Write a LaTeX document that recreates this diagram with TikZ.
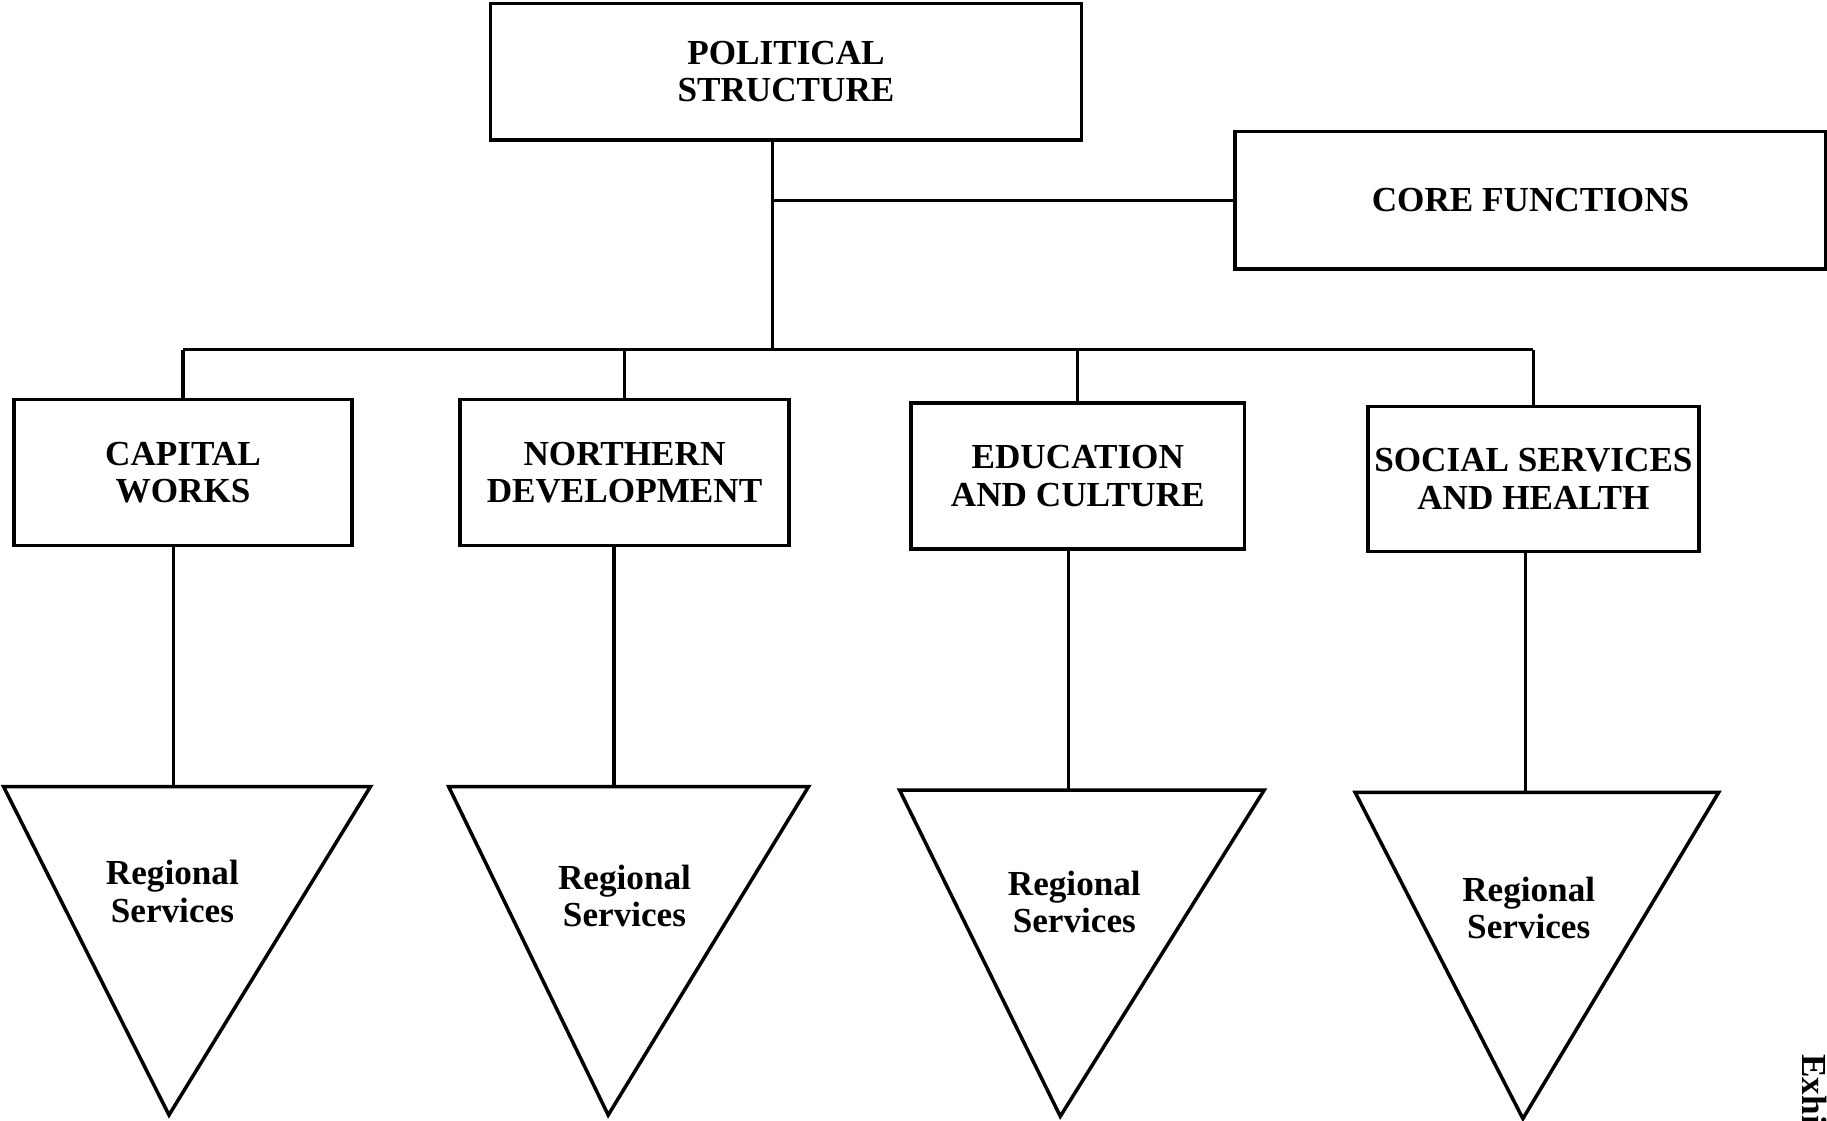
\documentclass[tikz,border=0pt]{standalone}
\usepackage{fontspec}
\setmainfont{Liberation Serif}
\usepackage{tikz}

\begin{document}
\begin{tikzpicture}[
                x=0.01cm, y=-0.01cm,
                every node/.style={align=center, font=\bfseries\fontsize{10}{10.6}\selectfont},
                unit box/.style={draw, rectangle, line width=1pt, inner sep=0pt},
                tri/.style={draw, line width=1pt, line join=miter},
                edge/.style={-, line width=0.9pt}
            ]
            \useasboundingbox (0,0) rectangle (1827,1120);

            % Nodes
            \node[unit box, minimum width=5.91cm, minimum height=1.36cm] (pol) at (786,71.7) {POLITICAL\\STRUCTURE};
            \node[unit box, minimum width=5.91cm, minimum height=1.375cm] (core) at (1530.5,200.4) {CORE FUNCTIONS};

            \node[unit box, minimum width=3.38cm, minimum height=1.456cm] (cw) at (183,472.5) {CAPITAL\\WORKS};
            \node[unit box, minimum width=3.285cm, minimum height=1.456cm] (nd) at (624.5,472.5) {NORTHERN\\DEVELOPMENT};
            \node[unit box, minimum width=3.33cm, minimum height=1.456cm] (ec) at (1077.8,476) {EDUCATION\\AND CULTURE};
            \node[unit box, minimum width=3.31cm, minimum height=1.445cm] (sh) at (1533.4,479) {SOCIAL SERVICES\\AND HEALTH};

            % Regional triangles
            \coordinate (t1) at (173.6,786.5);
            \coordinate (t2) at (614,786.5);
            \coordinate (t3) at (1068.5,790);
            \coordinate (t4) at (1525.2,792.3);
            \draw[tri] (3.5,786.5) -- (370.5,786.5) -- (169,1115) -- cycle;
            \draw[tri] (448.6,786.5) -- (808.6,786.5) -- (608.2,1115) -- cycle;
            \draw[tri] (899.5,790) -- (1264.2,790) -- (1060.3,1116.3) -- cycle;
            \draw[tri] (1355.1,792.3) -- (1718.7,792.3) -- (1522.9,1118.6) -- cycle;
            \node (r1) at (172.4,891.4) {Regional\\Services};
            \node (r2) at (624.5,896) {Regional\\Services};
            \node (r3) at (1074.3,901.9) {Regional\\Services};
            \node (r4) at (1528.7,907.7) {Regional\\Services};

            \node[rotate=-90, anchor=base west] (exh) at (1802,1042) {Exhi};

            % Edges
            \coordinate (j) at (772.5,349.6);
            \draw[edge] (pol.south -| j) -- (j);
            \draw[edge] (core.west) -- (core.west -| j);
            \draw[edge] (cw.north |- j) -- (sh.north |- j);
            \draw[edge] (cw.north |- j) -- (cw.north);
            \draw[edge] (nd.north |- j) -- (nd.north);
            \draw[edge] (ec.north |- j) -- (ec.north);
            \draw[edge] (sh.north |- j) -- (sh.north);

            \draw[edge] (cw.south -| t1) -- (t1);
            \draw[edge] (nd.south -| t2) -- (t2);
            \draw[edge] (ec.south -| t3) -- (t3);
            \draw[edge] (sh.south -| t4) -- (t4);

            \end{tikzpicture}
\end{document}
